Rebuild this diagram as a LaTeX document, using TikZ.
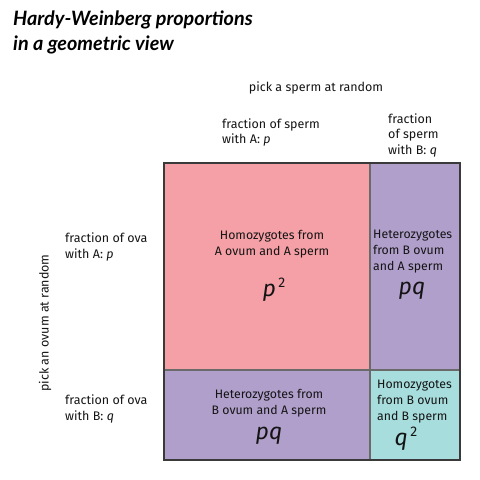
\documentclass[tikz,border=0pt]{standalone}
\usepackage{fontspec}
\setmainfont{Fira Sans}
\newfontfamily\titlefont{Lato}
\definecolor{pinkc}{HTML}{F4A0A6}
\definecolor{purpc}{HTML}{B09FCB}
\definecolor{cyanc}{HTML}{A8DDDD}
\definecolor{edgec}{HTML}{3A3A3A}
\definecolor{divc}{HTML}{6A6A6A}
\tikzset{
  lbl/.style={font=\fontsize{12.5}{15.5}\selectfont, inner sep=0pt, align=left, text=black!92},
  cell/.style={font=\fontsize{12.3}{16}\selectfont, inner sep=0pt, text=black!92},
  sym/.style={font=\fontsize{23}{23}\selectfont\itshape, inner sep=0pt, text=black!92},
}
\newcommand{\sq}[1]{#1\hspace{2.5pt}\raisebox{9pt}{\fontsize{14}{14}\selectfont\upshape 2}}
\begin{document}
\begin{tikzpicture}[x=1pt,y=-1pt]
\useasboundingbox (0,0) rectangle (480,480);
% cells
\fill[pinkc] (164,163) rectangle (370,370);
\fill[purpc] (370,163) rectangle (460,370);
\fill[purpc] (164,370) rectangle (370,460);
\fill[cyanc] (370,370) rectangle (460,460);
\draw[divc, line width=2pt] (370,163) -- (370,460);
\draw[divc, line width=2pt] (164,370) -- (460,370);
\draw[edgec, line width=2pt] (164,163) rectangle (460,460);
% title
\node[anchor=north west, inner sep=0pt, align=left, font=\titlefont\bfseries\itshape\fontsize{19.8}{25}\selectfont] (title) at (13,10.5) {Hardy-Weinberg proportions\\in a geometric view};
% top labels
\node[lbl, anchor=center] (sperm) at (316,87.5) {pick a sperm at random};
\node[lbl, anchor=north west] (spermA) at (222,118.5) {fraction of sperm\\with A: \textit{p}};
\node[lbl, anchor=north west] (spermB) at (388,113.5) {fraction\\of sperm\\with B: \textit{q}};
% left labels
\node[lbl, anchor=center, rotate=90] (ovum) at (45,323) {pick an ovum at random};
\node[lbl, anchor=north west] (ovaA) at (65,233) {fraction of ova\\with A: \textit{p}};
\node[lbl, anchor=north west] (ovaB) at (65,395) {fraction of ova\\with B: \textit{q}};
% cell texts
\node[cell, anchor=north, align=center] (tl) at (272,230) {Homozygotes from\\A ovum and A sperm};
\node[sym] (tlsym) at (274,290) {\sq{p}};
\node[cell, anchor=north west, align=left] (tr) at (373,230) {Heterozygotes\\from B ovum\\and A sperm};
\node[sym] (trsym) at (412,291) {pq};
\node[cell, anchor=north, align=center] (bl) at (269,389) {Heterozygotes from\\B ovum and A sperm};
\node[sym] (blsym) at (269,436) {pq};
\node[cell, anchor=north west, align=left] (br) at (377,380) {Homozygotes\\from B ovum\\and B sperm};
\node[sym] (brsym) at (406,439) {\sq{q}};
\end{tikzpicture}
\end{document}
